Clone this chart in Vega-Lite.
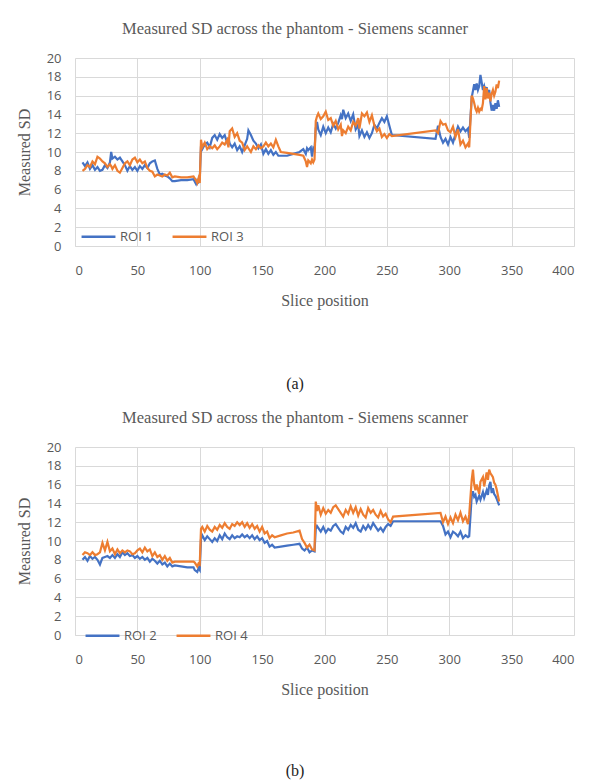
{
  "$schema": "https://vega.github.io/schema/vega-lite/v6.json",
  "padding": {"left": 16, "top": 20, "right": 5, "bottom": 3},
  "background": "white",
  "spacing": 17,
  "resolve": {"scale": {"color": "independent"}, "legend": {"color": "independent"}},
  "config": {
    "view": {"stroke": null},
    "axis": {
      "gridColor": "#d9d9d9", "gridWidth": 1, "domainColor": "#d9d9d9", "ticks": false,
      "labelFont": "Open Sans", "labelFontSize": 13, "labelColor": "#595959",
      "titleFont": "Liberation Serif", "titleFontSize": 16, "titleFontWeight": "normal", "titleColor": "#595959"
    },
    "title": {"font": "Liberation Serif", "fontSize": 16.5, "fontWeight": "normal", "color": "#595959"},
    "legend": {"labelFont": "Open Sans", "labelFontSize": 13, "labelColor": "#595959"}
  },
  "datasets": {
    "a": [
      {"s":6,"ROI 1":8.9,"ROI 3":8.0},{"s":8,"ROI 1":8.5,"ROI 3":8.2},{"s":10,"ROI 1":8.9,"ROI 3":8.6},{"s":12,"ROI 1":8.2,"ROI 3":8.4},
      {"s":14,"ROI 1":8.6,"ROI 3":9.0},{"s":16,"ROI 1":8.1,"ROI 3":8.7},{"s":18,"ROI 1":8.4,"ROI 3":9.5},{"s":20,"ROI 1":8.0,"ROI 3":9.3},
      {"s":22,"ROI 1":8.1,"ROI 3":9.0},{"s":24,"ROI 1":8.6,"ROI 3":8.8},{"s":26,"ROI 1":8.3,"ROI 3":8.4},{"s":28,"ROI 1":8.9,"ROI 3":8.7},
      {"s":29,"ROI 1":10.0,"ROI 3":8.5},{"s":30,"ROI 1":9.3,"ROI 3":8.2},{"s":32,"ROI 1":9.5,"ROI 3":8.6},{"s":34,"ROI 1":9.2,"ROI 3":8.0},
      {"s":36,"ROI 1":9.4,"ROI 3":7.8},{"s":38,"ROI 1":9.0,"ROI 3":8.3},{"s":40,"ROI 1":8.6,"ROI 3":8.8},{"s":42,"ROI 1":8.0,"ROI 3":9.0},
      {"s":44,"ROI 1":8.5,"ROI 3":8.6},{"s":46,"ROI 1":8.1,"ROI 3":9.2},{"s":48,"ROI 1":8.4,"ROI 3":9.4},{"s":50,"ROI 1":8.0,"ROI 3":8.9},
      {"s":52,"ROI 1":8.5,"ROI 3":9.2},{"s":54,"ROI 1":8.2,"ROI 3":8.8},{"s":56,"ROI 1":8.6,"ROI 3":9.0},{"s":58,"ROI 1":8.3,"ROI 3":8.3},
      {"s":60,"ROI 1":8.8,"ROI 3":8.0},{"s":62,"ROI 1":9.0,"ROI 3":7.9},{"s":64,"ROI 1":9.1,"ROI 3":7.4},{"s":66,"ROI 1":8.2,"ROI 3":7.6},
      {"s":68,"ROI 1":7.6,"ROI 3":7.5},{"s":70,"ROI 1":7.7,"ROI 3":7.4},{"s":72,"ROI 1":7.5,"ROI 3":7.6},{"s":74,"ROI 1":7.4,"ROI 3":7.5},
      {"s":76,"ROI 1":7.2,"ROI 3":7.8},{"s":78,"ROI 1":6.9,"ROI 3":7.3},{"s":80,"ROI 1":6.9,"ROI 3":7.4},{"s":85,"ROI 1":7.0,"ROI 3":7.3},
      {"s":90,"ROI 1":7.0,"ROI 3":7.3},{"s":95,"ROI 1":7.1,"ROI 3":7.4},{"s":97,"ROI 1":6.6,"ROI 3":7.0},{"s":98,"ROI 1":7.0,"ROI 3":6.7},
      {"s":99,"ROI 1":6.8,"ROI 3":7.2},{"s":100,"ROI 1":7.1,"ROI 3":6.7},{"s":101,"ROI 1":10.6,"ROI 3":11.3},{"s":102,"ROI 1":10.3,"ROI 3":10.5},
      {"s":104,"ROI 1":10.8,"ROI 3":11.0},{"s":106,"ROI 1":11.0,"ROI 3":10.3},{"s":108,"ROI 1":10.5,"ROI 3":10.6},{"s":110,"ROI 1":11.5,"ROI 3":10.4},
      {"s":112,"ROI 1":11.8,"ROI 3":10.7},{"s":114,"ROI 1":11.3,"ROI 3":10.3},{"s":116,"ROI 1":11.9,"ROI 3":10.6},{"s":118,"ROI 1":11.5,"ROI 3":11.0},
      {"s":120,"ROI 1":11.8,"ROI 3":10.8},{"s":122,"ROI 1":11.0,"ROI 3":11.3},{"s":123,"ROI 1":11.5,"ROI 3":10.5},{"s":124,"ROI 1":10.9,"ROI 3":12.2},
      {"s":126,"ROI 1":10.5,"ROI 3":12.5},{"s":128,"ROI 1":10.9,"ROI 3":11.6},{"s":130,"ROI 1":10.2,"ROI 3":12.0},{"s":132,"ROI 1":10.6,"ROI 3":11.2},
      {"s":134,"ROI 1":10.0,"ROI 3":11.0},{"s":136,"ROI 1":10.7,"ROI 3":10.2},{"s":138,"ROI 1":11.4,"ROI 3":10.6},{"s":139,"ROI 1":12.3,"ROI 3":10.4},
      {"s":141,"ROI 1":11.8,"ROI 3":10.0},{"s":143,"ROI 1":11.2,"ROI 3":10.6},{"s":145,"ROI 1":10.9,"ROI 3":10.3},{"s":147,"ROI 1":10.4,"ROI 3":10.7},
      {"s":149,"ROI 1":10.8,"ROI 3":10.4},{"s":151,"ROI 1":9.8,"ROI 3":10.6},{"s":153,"ROI 1":10.3,"ROI 3":11.0},{"s":155,"ROI 1":9.8,"ROI 3":10.6},
      {"s":157,"ROI 1":10.2,"ROI 3":10.9},{"s":159,"ROI 1":9.7,"ROI 3":10.5},{"s":161,"ROI 1":10.0,"ROI 3":11.3},{"s":163,"ROI 1":9.6,"ROI 3":10.6},
      {"s":165,"ROI 1":9.6,"ROI 3":10.0},{"s":170,"ROI 1":9.6,"ROI 3":9.9},{"s":175,"ROI 1":9.8,"ROI 3":9.8},{"s":180,"ROI 1":10.0,"ROI 3":9.7},
      {"s":183,"ROI 1":10.3,"ROI 3":9.6},{"s":185,"ROI 1":9.8,"ROI 3":9.0},{"s":186,"ROI 1":10.4,"ROI 3":8.4},{"s":187,"ROI 1":10.2,"ROI 3":9.1},
      {"s":189,"ROI 1":10.5,"ROI 3":8.8},{"s":190,"ROI 1":9.5,"ROI 3":9.2},{"s":191,"ROI 1":10.4,"ROI 3":8.9},{"s":192,"ROI 1":10.2,"ROI 3":9.2},
      {"s":193,"ROI 1":12.5,"ROI 3":13.3},{"s":194,"ROI 1":13.2,"ROI 3":13.8},{"s":195,"ROI 1":12.4,"ROI 3":14.1},{"s":197,"ROI 1":11.8,"ROI 3":13.5},
      {"s":199,"ROI 1":12.7,"ROI 3":13.8},{"s":201,"ROI 1":12.0,"ROI 3":14.3},{"s":203,"ROI 1":12.6,"ROI 3":13.4},{"s":205,"ROI 1":12.1,"ROI 3":13.6},
      {"s":207,"ROI 1":13.0,"ROI 3":12.8},{"s":209,"ROI 1":12.5,"ROI 3":13.3},{"s":211,"ROI 1":13.1,"ROI 3":12.4},{"s":213,"ROI 1":13.9,"ROI 3":12.9},
      {"s":214,"ROI 1":13.5,"ROI 3":11.7},{"s":215,"ROI 1":14.5,"ROI 3":12.3},{"s":217,"ROI 1":13.6,"ROI 3":12.0},{"s":219,"ROI 1":14.1,"ROI 3":12.7},
      {"s":221,"ROI 1":13.3,"ROI 3":12.3},{"s":223,"ROI 1":14.0,"ROI 3":13.2},{"s":225,"ROI 1":12.4,"ROI 3":12.8},{"s":227,"ROI 1":12.9,"ROI 3":13.6},
      {"s":228,"ROI 1":11.7,"ROI 3":12.5},{"s":230,"ROI 1":12.3,"ROI 3":14.1},{"s":232,"ROI 1":11.6,"ROI 3":13.8},{"s":234,"ROI 1":12.1,"ROI 3":14.2},
      {"s":236,"ROI 1":11.5,"ROI 3":13.2},{"s":238,"ROI 1":12.0,"ROI 3":13.9},{"s":240,"ROI 1":12.9,"ROI 3":12.8},{"s":242,"ROI 1":12.5,"ROI 3":12.2},
      {"s":244,"ROI 1":13.1,"ROI 3":12.5},{"s":246,"ROI 1":13.6,"ROI 3":11.6},{"s":248,"ROI 1":13.2,"ROI 3":11.9},{"s":250,"ROI 1":13.8,"ROI 3":11.5},
      {"s":252,"ROI 1":12.8,"ROI 3":11.9},{"s":254,"ROI 1":11.8,"ROI 3":11.7},{"s":289,"ROI 1":11.4,"ROI 3":12.3},{"s":291,"ROI 1":12.8,"ROI 3":12.0},
      {"s":293,"ROI 1":11.6,"ROI 3":13.3},{"s":295,"ROI 1":11.0,"ROI 3":12.9},{"s":297,"ROI 1":11.4,"ROI 3":13.0},{"s":299,"ROI 1":10.8,"ROI 3":12.3},
      {"s":301,"ROI 1":11.6,"ROI 3":12.1},{"s":303,"ROI 1":11.0,"ROI 3":12.7},{"s":305,"ROI 1":11.9,"ROI 3":11.6},{"s":307,"ROI 1":12.7,"ROI 3":12.4},
      {"s":309,"ROI 1":12.2,"ROI 3":10.8},{"s":311,"ROI 1":12.6,"ROI 3":11.2},{"s":313,"ROI 1":12.2,"ROI 3":10.5},{"s":315,"ROI 1":12.5,"ROI 3":10.9},
      {"s":316,"ROI 1":11.5,"ROI 3":10.5},{"s":318,"ROI 1":15.8,"ROI 3":16.0},{"s":319,"ROI 1":16.5,"ROI 3":15.7},{"s":320,"ROI 1":17.2,"ROI 3":15.2},
      {"s":321,"ROI 1":16.6,"ROI 3":14.6},{"s":322,"ROI 1":17.3,"ROI 3":14.3},{"s":323,"ROI 1":16.6,"ROI 3":14.7},{"s":324,"ROI 1":17.0,"ROI 3":14.3},
      {"s":325,"ROI 1":18.2,"ROI 3":14.6},{"s":326,"ROI 1":17.4,"ROI 3":14.5},{"s":327,"ROI 1":16.6,"ROI 3":15.2},{"s":328,"ROI 1":17.0,"ROI 3":17.0},
      {"s":329,"ROI 1":16.4,"ROI 3":15.6},{"s":330,"ROI 1":16.9,"ROI 3":16.8},{"s":331,"ROI 1":16.2,"ROI 3":15.7},{"s":332,"ROI 1":16.6,"ROI 3":16.3},
      {"s":333,"ROI 1":15.3,"ROI 3":15.4},{"s":334,"ROI 1":14.4,"ROI 3":16.2},{"s":335,"ROI 1":15.0,"ROI 3":16.6},{"s":336,"ROI 1":14.4,"ROI 3":16.0},
      {"s":337,"ROI 1":15.2,"ROI 3":16.4},{"s":338,"ROI 1":14.6,"ROI 3":17.2},{"s":339,"ROI 1":15.5,"ROI 3":16.8},{"s":340,"ROI 1":14.8,"ROI 3":17.6}
    ],
    "b": [
      {"s":6,"ROI 2":8.0,"ROI 4":8.5},{"s":8,"ROI 2":8.3,"ROI 4":8.8},{"s":10,"ROI 2":7.9,"ROI 4":8.7},{"s":12,"ROI 2":8.4,"ROI 4":8.5},
      {"s":14,"ROI 2":8.1,"ROI 4":8.8},{"s":16,"ROI 2":8.3,"ROI 4":8.5},{"s":18,"ROI 2":8.0,"ROI 4":8.6},{"s":20,"ROI 2":7.5,"ROI 4":8.8},
      {"s":22,"ROI 2":8.2,"ROI 4":9.8},{"s":24,"ROI 2":8.3,"ROI 4":9.0},{"s":26,"ROI 2":8.4,"ROI 4":9.9},{"s":28,"ROI 2":8.2,"ROI 4":8.9},
      {"s":30,"ROI 2":8.5,"ROI 4":9.2},{"s":32,"ROI 2":8.2,"ROI 4":8.6},{"s":34,"ROI 2":8.6,"ROI 4":9.1},{"s":36,"ROI 2":8.3,"ROI 4":8.7},
      {"s":38,"ROI 2":8.8,"ROI 4":9.0},{"s":40,"ROI 2":8.5,"ROI 4":8.8},{"s":42,"ROI 2":8.7,"ROI 4":9.0},{"s":44,"ROI 2":8.4,"ROI 4":8.9},
      {"s":46,"ROI 2":8.5,"ROI 4":8.6},{"s":48,"ROI 2":8.2,"ROI 4":8.7},{"s":50,"ROI 2":8.4,"ROI 4":9.0},{"s":52,"ROI 2":8.1,"ROI 4":9.2},
      {"s":54,"ROI 2":8.3,"ROI 4":8.8},{"s":56,"ROI 2":8.0,"ROI 4":9.3},{"s":58,"ROI 2":8.2,"ROI 4":8.9},{"s":60,"ROI 2":7.8,"ROI 4":9.1},
      {"s":62,"ROI 2":8.1,"ROI 4":8.4},{"s":64,"ROI 2":7.9,"ROI 4":8.8},{"s":66,"ROI 2":7.6,"ROI 4":8.3},{"s":68,"ROI 2":7.9,"ROI 4":8.5},
      {"s":70,"ROI 2":7.5,"ROI 4":8.0},{"s":72,"ROI 2":7.7,"ROI 4":8.4},{"s":74,"ROI 2":7.3,"ROI 4":7.9},{"s":76,"ROI 2":7.6,"ROI 4":8.2},
      {"s":78,"ROI 2":7.3,"ROI 4":7.7},{"s":80,"ROI 2":7.4,"ROI 4":7.8},{"s":85,"ROI 2":7.3,"ROI 4":7.8},{"s":90,"ROI 2":7.2,"ROI 4":7.8},
      {"s":95,"ROI 2":7.2,"ROI 4":7.8},{"s":96,"ROI 2":6.9,"ROI 4":7.7},{"s":98,"ROI 2":6.7,"ROI 4":7.3},{"s":99,"ROI 2":7.1,"ROI 4":7.6},
      {"s":100,"ROI 2":6.9,"ROI 4":7.5},{"s":101,"ROI 2":10.2,"ROI 4":11.3},{"s":102,"ROI 2":10.6,"ROI 4":11.5},{"s":104,"ROI 2":10.1,"ROI 4":11.0},
      {"s":106,"ROI 2":10.5,"ROI 4":11.6},{"s":108,"ROI 2":10.2,"ROI 4":11.2},{"s":110,"ROI 2":9.9,"ROI 4":11.0},{"s":112,"ROI 2":10.3,"ROI 4":11.5},
      {"s":114,"ROI 2":10.0,"ROI 4":11.2},{"s":116,"ROI 2":10.6,"ROI 4":11.7},{"s":118,"ROI 2":10.2,"ROI 4":11.4},{"s":120,"ROI 2":10.8,"ROI 4":11.9},
      {"s":122,"ROI 2":10.4,"ROI 4":11.5},{"s":124,"ROI 2":10.2,"ROI 4":11.3},{"s":126,"ROI 2":10.6,"ROI 4":11.8},{"s":128,"ROI 2":10.3,"ROI 4":11.6},
      {"s":130,"ROI 2":10.5,"ROI 4":12.0},{"s":132,"ROI 2":10.4,"ROI 4":11.7},{"s":134,"ROI 2":10.7,"ROI 4":12.0},{"s":136,"ROI 2":10.4,"ROI 4":11.5},
      {"s":138,"ROI 2":10.6,"ROI 4":11.9},{"s":140,"ROI 2":10.3,"ROI 4":11.4},{"s":142,"ROI 2":10.6,"ROI 4":11.8},{"s":144,"ROI 2":10.2,"ROI 4":11.3},
      {"s":146,"ROI 2":10.5,"ROI 4":11.6},{"s":148,"ROI 2":10.1,"ROI 4":11.0},{"s":150,"ROI 2":10.3,"ROI 4":11.5},{"s":152,"ROI 2":9.8,"ROI 4":10.8},
      {"s":154,"ROI 2":10.0,"ROI 4":11.0},{"s":156,"ROI 2":9.4,"ROI 4":10.3},{"s":158,"ROI 2":9.6,"ROI 4":10.6},{"s":160,"ROI 2":9.3,"ROI 4":10.4},
      {"s":165,"ROI 2":9.4,"ROI 4":10.6},{"s":170,"ROI 2":9.5,"ROI 4":10.8},{"s":175,"ROI 2":9.6,"ROI 4":10.9},{"s":180,"ROI 2":9.7,"ROI 4":11.1},
      {"s":182,"ROI 2":9.2,"ROI 4":10.2},{"s":184,"ROI 2":9.0,"ROI 4":9.8},{"s":186,"ROI 2":9.3,"ROI 4":9.3},{"s":188,"ROI 2":8.8,"ROI 4":9.6},
      {"s":190,"ROI 2":9.0,"ROI 4":9.1},{"s":192,"ROI 2":8.9,"ROI 4":9.0},{"s":193,"ROI 2":11.3,"ROI 4":14.2},{"s":194,"ROI 2":11.6,"ROI 4":13.2},
      {"s":195,"ROI 2":11.4,"ROI 4":13.8},{"s":197,"ROI 2":11.0,"ROI 4":12.8},{"s":199,"ROI 2":11.5,"ROI 4":13.5},{"s":201,"ROI 2":10.9,"ROI 4":12.9},
      {"s":203,"ROI 2":11.3,"ROI 4":13.3},{"s":205,"ROI 2":11.1,"ROI 4":13.0},{"s":207,"ROI 2":11.6,"ROI 4":13.6},{"s":209,"ROI 2":11.8,"ROI 4":13.8},
      {"s":211,"ROI 2":11.4,"ROI 4":13.4},{"s":213,"ROI 2":11.0,"ROI 4":13.0},{"s":215,"ROI 2":10.8,"ROI 4":12.6},{"s":217,"ROI 2":11.5,"ROI 4":13.3},
      {"s":219,"ROI 2":11.2,"ROI 4":12.9},{"s":221,"ROI 2":11.7,"ROI 4":13.7},{"s":223,"ROI 2":11.4,"ROI 4":13.0},{"s":225,"ROI 2":11.9,"ROI 4":13.6},
      {"s":227,"ROI 2":11.2,"ROI 4":12.7},{"s":229,"ROI 2":11.0,"ROI 4":13.4},{"s":231,"ROI 2":11.6,"ROI 4":12.8},{"s":233,"ROI 2":11.2,"ROI 4":12.5},
      {"s":235,"ROI 2":11.7,"ROI 4":13.5},{"s":237,"ROI 2":11.3,"ROI 4":13.0},{"s":239,"ROI 2":11.9,"ROI 4":13.3},{"s":241,"ROI 2":11.5,"ROI 4":12.8},
      {"s":243,"ROI 2":11.1,"ROI 4":12.5},{"s":245,"ROI 2":11.4,"ROI 4":13.2},{"s":247,"ROI 2":11.0,"ROI 4":12.6},{"s":249,"ROI 2":11.5,"ROI 4":12.9},
      {"s":251,"ROI 2":11.8,"ROI 4":12.3},{"s":253,"ROI 2":11.6,"ROI 4":12.0},{"s":255,"ROI 2":12.1,"ROI 4":12.6},{"s":293,"ROI 2":12.1,"ROI 4":13.0},
      {"s":295,"ROI 2":11.6,"ROI 4":12.0},{"s":297,"ROI 2":10.7,"ROI 4":12.6},{"s":299,"ROI 2":11.0,"ROI 4":11.8},{"s":301,"ROI 2":10.4,"ROI 4":12.5},
      {"s":303,"ROI 2":11.0,"ROI 4":11.9},{"s":305,"ROI 2":10.8,"ROI 4":12.8},{"s":307,"ROI 2":10.5,"ROI 4":12.2},{"s":309,"ROI 2":11.0,"ROI 4":13.0},
      {"s":311,"ROI 2":10.3,"ROI 4":12.1},{"s":313,"ROI 2":10.6,"ROI 4":12.6},{"s":315,"ROI 2":10.4,"ROI 4":11.8},{"s":316,"ROI 2":10.5,"ROI 4":12.8},
      {"s":318,"ROI 2":14.8,"ROI 4":16.5},{"s":319,"ROI 2":15.3,"ROI 4":17.6},{"s":320,"ROI 2":14.7,"ROI 4":16.0},{"s":321,"ROI 2":14.9,"ROI 4":15.4},
      {"s":322,"ROI 2":14.2,"ROI 4":16.0},{"s":324,"ROI 2":14.8,"ROI 4":15.0},{"s":325,"ROI 2":14.4,"ROI 4":16.3},{"s":327,"ROI 2":15.2,"ROI 4":16.8},
      {"s":328,"ROI 2":14.6,"ROI 4":15.8},{"s":330,"ROI 2":15.4,"ROI 4":17.3},{"s":331,"ROI 2":14.9,"ROI 4":16.5},{"s":332,"ROI 2":15.9,"ROI 4":17.6},
      {"s":333,"ROI 2":16.3,"ROI 4":17.2},{"s":334,"ROI 2":15.1,"ROI 4":17.0},{"s":335,"ROI 2":15.6,"ROI 4":16.8},{"s":336,"ROI 2":15.0,"ROI 4":16.2},
      {"s":337,"ROI 2":14.8,"ROI 4":16.0},{"s":338,"ROI 2":14.5,"ROI 4":15.5},{"s":340,"ROI 2":13.8,"ROI 4":14.2}
    ]
  },
  "vconcat": [
    {
      "title": {"text": "(a)", "orient": "bottom", "offset": 68, "color": "#222222", "fontSize": 16, "frame": "bounds", "anchor": "middle"},
      "vconcat": [
        {
          "width": 499, "height": 188,
          "title": {"text": "Measured SD across the phantom - Siemens scanner", "frame": "bounds", "anchor": "middle", "offset": 15},
          "data": {"name": "a"},
          "transform": [{"fold": ["ROI 1", "ROI 3"], "as": ["series", "sd"]}],
          "mark": {"type": "line", "strokeWidth": 2.2},
          "encoding": {
            "x": {"field": "s", "type": "quantitative", "scale": {"domain": [0, 400], "nice": false},
                  "axis": {"title": "Slice position", "values": [0,50,100,150,200,250,300,350,400], "labelPadding": 18, "titlePadding": 15}},
            "y": {"field": "sd", "type": "quantitative", "scale": {"domain": [0, 20], "nice": false},
                  "axis": {"title": "Measured SD", "values": [0,2,4,6,8,10,12,14,16,18,20], "labelPadding": 14, "titlePadding": 14, "domain": false}},
            "color": {"field": "series", "type": "nominal",
                      "scale": {"domain": ["ROI 1", "ROI 3"], "range": ["#4472C4", "#ED7D31"]},
                      "legend": {"title": null, "orient": "none", "legendX": 5, "legendY": 160, "direction": "horizontal",
                                 "symbolType": "stroke", "symbolSize": 1150, "symbolStrokeWidth": 2.5, "labelOffset": 3, "columnPadding": 14}}
          }
        }
      ]
    },
    {
      "title": {"text": "(b)", "orient": "bottom", "offset": 66, "color": "#222222", "fontSize": 16, "frame": "bounds", "anchor": "middle"},
      "vconcat": [
        {
          "width": 499, "height": 188,
          "title": {"text": "Measured SD across the phantom - Siemens scanner", "frame": "bounds", "anchor": "middle", "offset": 15},
          "data": {"name": "b"},
          "transform": [{"fold": ["ROI 2", "ROI 4"], "as": ["series", "sd"]}],
          "mark": {"type": "line", "strokeWidth": 2.2},
          "encoding": {
            "x": {"field": "s", "type": "quantitative", "scale": {"domain": [0, 400], "nice": false},
                  "axis": {"title": "Slice position", "values": [0,50,100,150,200,250,300,350,400], "labelPadding": 18, "titlePadding": 15}},
            "y": {"field": "sd", "type": "quantitative", "scale": {"domain": [0, 20], "nice": false},
                  "axis": {"title": "Measured SD", "values": [0,2,4,6,8,10,12,14,16,18,20], "labelPadding": 14, "titlePadding": 14, "domain": false}},
            "color": {"field": "series", "type": "nominal",
                      "scale": {"domain": ["ROI 2", "ROI 4"], "range": ["#4472C4", "#ED7D31"]},
                      "legend": {"title": null, "orient": "none", "legendX": 9, "legendY": 170, "direction": "horizontal",
                                 "symbolType": "stroke", "symbolSize": 1150, "symbolStrokeWidth": 2.5, "labelOffset": 3, "columnPadding": 14}}
          }
        }
      ]
    }
  ]
}
